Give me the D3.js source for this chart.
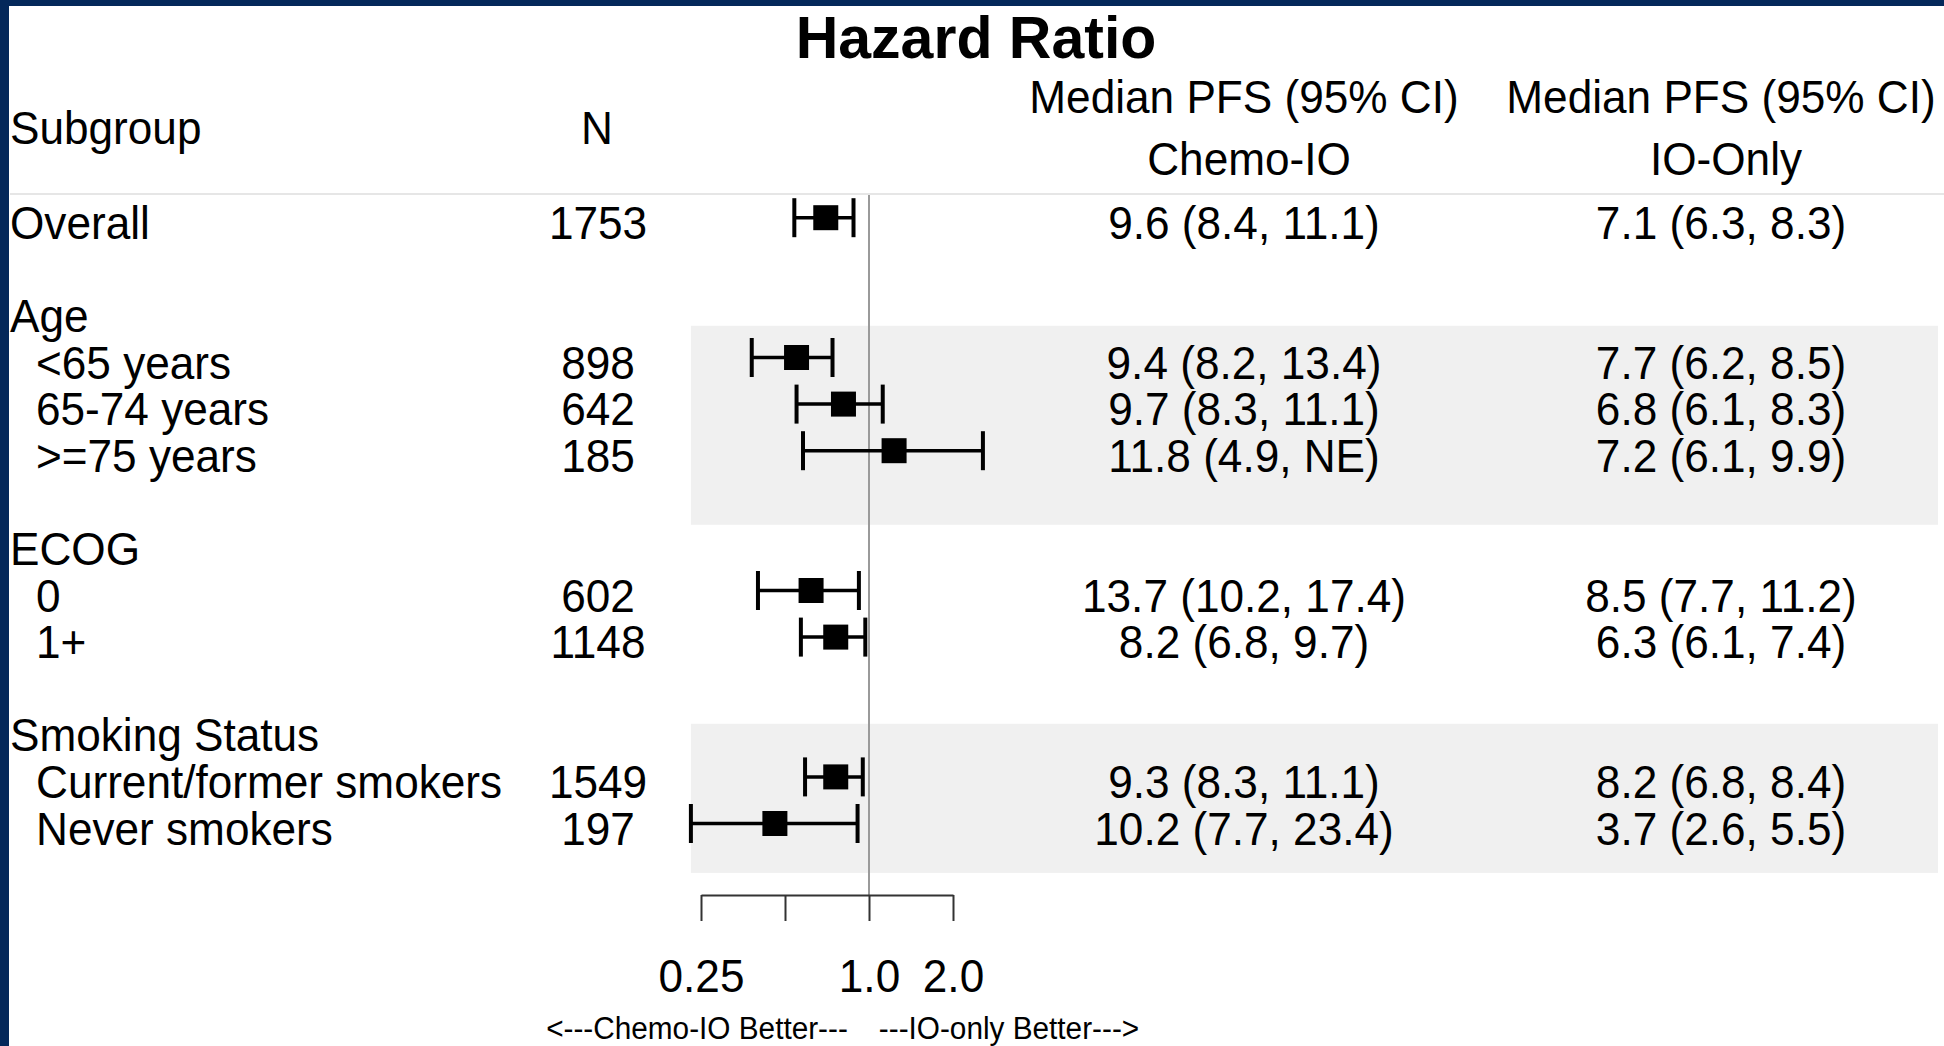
<!DOCTYPE html>
<html>
<head>
<meta charset="utf-8">
<script src="https://cdn.jsdelivr.net/npm/d3@7"></script>
<style>
  body { margin: 0; background: #04285a; }
  text { font-family: "Liberation Sans", Arial, sans-serif; fill: #000; }
</style>
</head>
<body>
<div class="chart"></div>
<script>
// forest plot: rows top to bottom, null where a row has no value
const subgroups = ["Overall", "", "Age", "<65 years", "65-74 years", ">=75 years", "",
  "ECOG", "0", "1+", "", "Smoking Status", "Current/former smokers", "Never smokers"];
const levels = [0, 0, 0, 1, 1, 1, 0, 0, 1, 1, 0, 0, 1, 1];
const nValues = [1753, null, null, 898, 642, 185, null, null, 602, 1148, null, null, 1549, 197];
const hr     = [0.70, null, null, 0.55, 0.81, 1.23, null, null, 0.62, 0.76, null, null, 0.76, 0.46];
const hrLow  = [0.54, null, null, 0.38, 0.55, 0.58, null, null, 0.40, 0.57, null, null, 0.59, 0.23];
const hrHigh = [0.88, null, null, 0.74, 1.12, 2.56, null, null, 0.92, 0.97, null, null, 0.95, 0.91];
const chemoPFS = ["9.6 (8.4, 11.1)", "", "", "9.4 (8.2, 13.4)", "9.7 (8.3, 11.1)", "11.8 (4.9, NE)", "",
  "", "13.7 (10.2, 17.4)", "8.2 (6.8, 9.7)", "", "", "9.3 (8.3, 11.1)", "10.2 (7.7, 23.4)"];
const ioPFS = ["7.1 (6.3, 8.3)", "", "", "7.7 (6.2, 8.5)", "6.8 (6.1, 8.3)", "7.2 (6.1, 9.9)", "",
  "", "8.5 (7.7, 11.2)", "6.3 (6.1, 7.4)", "", "", "8.2 (6.8, 8.4)", "3.7 (2.6, 5.5)"];
const shadedGroups = ["Age", "Smoking Status"];
const xTicks = [0.25, 0.5, 1, 2];
const xTickLabels = ["0.25", "", "1.0", "2.0"];

const outerWidth = 1944, outerHeight = 1046;
const squeeze = 0.96; // the source text is a little narrow
const fs = 46;

const svg = d3.select(".chart").append("svg")
  .attr("width", outerWidth)
  .attr("height", outerHeight)
  .style("display", "block");

// navy frame on left/top, white page
svg.append("rect").attr("x", 9).attr("y", 6)
  .attr("width", outerWidth - 9).attr("height", outerHeight - 6).attr("fill", "#fff");

const xScale = d3.scaleLog().domain([0.25, 2]).range([701, 953]);
const yScale = d3.scaleLinear().domain([0, subgroups.length - 1]).range([217.7, 823.5]);

function label(x, y, str, anchor, size, weight, sx) {
  return svg.append("text")
    .attr("transform", `translate(${x},${y}) scale(${sx || squeeze},1)`)
    .attr("text-anchor", anchor)
    .style("font-size", size + "px")
    .style("font-weight", weight || "normal")
    .text(str);
}

// shaded bands behind grouped rows (extent in row units)
const bandRows = { "Age": [2.32, 6.59], "Smoking Status": [10.86, 14.06] };
const bandLeft = xScale(d3.min(hrLow.filter(v => v != null)));
shadedGroups.forEach(g => {
  const [a, b] = bandRows[g];
  svg.append("rect")
    .attr("x", bandLeft)
    .attr("y", yScale(a))
    .attr("width", outerWidth - 6 - bandLeft)
    .attr("height", yScale(b) - yScale(a))
    .attr("fill", "#f0f0f0");
});

// header
label(976, 58, "Hazard Ratio", "middle", 59, "bold", 1);
label(1244, 113, "Median PFS (95% CI)", "middle", fs);
label(1721, 113, "Median PFS (95% CI)", "middle", fs);
label(10, 144, "Subgroup", "start", fs);
label(597, 144, "N", "middle", fs);
label(1249, 175, "Chemo-IO", "middle", fs);
label(1726, 175, "IO-Only", "middle", fs);

svg.append("line")
  .attr("x1", 10).attr("x2", outerWidth).attr("y1", 194).attr("y2", 194)
  .attr("stroke", "#e6e6e6").attr("stroke-width", 2);

// reference line at HR = 1
svg.append("line")
  .attr("x1", xScale(1)).attr("x2", xScale(1))
  .attr("y1", 195).attr("y2", 895)
  .attr("stroke", "#9a9a9a").attr("stroke-width", 2);

// table text
subgroups.forEach((s, i) => {
  const y = yScale(i) + 21;
  if (s) label(levels[i] ? 36 : 10, y, s, "start", fs);
  if (nValues[i] != null) label(598, y, nValues[i], "middle", fs);
  if (chemoPFS[i]) label(1244, y, chemoPFS[i], "middle", fs);
  if (ioPFS[i]) label(1721, y, ioPFS[i], "middle", fs);
});

// estimates with CI whiskers
const rows = d3.range(subgroups.length).filter(i => hr[i] != null);
const marks = svg.append("g").attr("class", "marks");
const capH = 19.5, box = 25;

marks.selectAll(".ci").data(rows).join("line")
  .attr("x1", i => xScale(hrLow[i])).attr("x2", i => xScale(hrHigh[i]))
  .attr("y1", i => yScale(i)).attr("y2", i => yScale(i))
  .attr("stroke", "#000").attr("stroke-width", 3.5);

["lo", "hi"].forEach(k => {
  marks.selectAll(".cap-" + k).data(rows).join("line")
    .attr("x1", i => xScale(k === "lo" ? hrLow[i] : hrHigh[i]))
    .attr("x2", i => xScale(k === "lo" ? hrLow[i] : hrHigh[i]))
    .attr("y1", i => yScale(i) - capH).attr("y2", i => yScale(i) + capH)
    .attr("stroke", "#000").attr("stroke-width", 4);
});

marks.selectAll(".box").data(rows).join("rect")
  .attr("x", i => xScale(hr[i]) - box / 2)
  .attr("y", i => yScale(i) - box / 2)
  .attr("width", box).attr("height", box)
  .attr("fill", "#000");

// x axis
const xAxis = d3.axisBottom(xScale)
  .tickValues(xTicks)
  .tickFormat((d, i) => xTickLabels[i])
  .tickSize(26)
  .tickSizeOuter(0)
  .tickPadding(38);

const x_axis = svg.append("g").attr("class", "axis x-axis")
  .attr("transform", "translate(0, 895)")
  .call(xAxis);
x_axis.select(".domain").attr("stroke", "#333").attr("stroke-width", 2);
x_axis.selectAll(".tick line").attr("stroke", "#333").attr("stroke-width", 2);
x_axis.selectAll(".tick text")
  .attr("fill", "#000")
  .attr("transform", `scale(${squeeze},1)`)
  .style("font-size", fs + "px")
  .style("font-family", '"Liberation Sans", Arial, sans-serif');

label(697, 1039, "<---Chemo-IO Better---", "middle", 31);
label(1009, 1039, "---IO-only Better--->", "middle", 31);
</script>
</body>
</html>
